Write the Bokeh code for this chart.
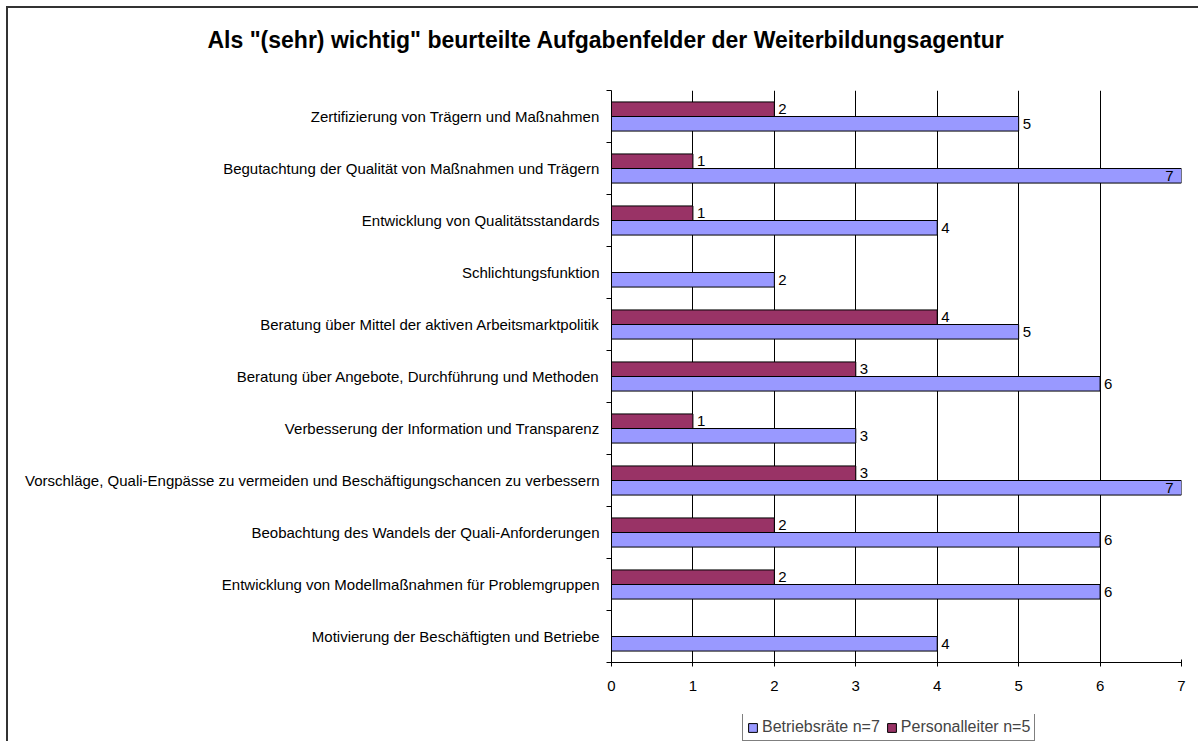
from bokeh.plotting import figure
from bokeh.layouts import column
from bokeh.models import ColumnDataSource, FixedTicker, Legend, LegendItem, Range1d
from bokeh.core.properties import value
from bokeh.embed import file_html
from bokeh.resources import INLINE

TITLE = 'Als "(sehr) wichtig" beurteilte Aufgabenfelder der Weiterbildungsagentur'
categories = [
    "Zertifizierung von Trägern und Maßnahmen",
    "Begutachtung der Qualität von Maßnahmen und Trägern",
    "Entwicklung von Qualitätsstandards",
    "Schlichtungsfunktion",
    "Beratung über Mittel der aktiven Arbeitsmarktpolitik",
    "Beratung über Angebote, Durchführung und Methoden",
    "Verbesserung der Information und Transparenz",
    "Vorschläge, Quali-Engpässe zu vermeiden und Beschäftigungschancen zu verbessern",
    "Beobachtung des Wandels der Quali-Anforderungen",
    "Entwicklung von Modellmaßnahmen für Problemgruppen",
    "Motivierung der Beschäftigten und Betriebe",
]
betriebsraete = [5, 7, 4, 2, 5, 6, 3, 7, 6, 6, 4]
personalleiter = [2, 1, 1, 0, 4, 3, 1, 3, 2, 2, 0]
series_names = ["Betriebsräte n=7", "Personalleiter n=5"]
x_ticks = [0, 1, 2, 3, 4, 5, 6, 7]

BLUE = "#9999FF"
PURPLE = "#993366"
FONT = "Liberation Sans"
X_END = 7
n = len(categories)
BAR_H = 0.28

centers = [n - 0.5 - i for i in range(n)]


def blank(fig):
    fig.outline_line_color = None
    fig.background_fill_color = "white"
    fig.border_fill_alpha = 0


# ---- title strip ----
t = figure(width=1198, height=60, output_backend="svg", toolbar_location=None,
           x_range=Range1d(0, 1), y_range=Range1d(0, 1), x_axis_type=None, y_axis_type=None,
           min_border_top=58, min_border_bottom=0, min_border_left=611, min_border_right=17)
blank(t)
t.grid.visible = False
t.title.text = TITLE
t.title.align = "left"
t.title.offset = -404
t.title.vertical_align = "middle"
t.title.text_font = FONT
t.title.text_font_size = "23px"
t.title.text_font_style = "bold"
t.title.text_color = "black"

# ---- main chart ----
p = figure(width=1198, height=654, output_backend="svg", toolbar_location=None,
           x_range=Range1d(0, X_END), y_range=Range1d(0, n),
           min_border_left=611, min_border_right=17, min_border_top=30, min_border_bottom=52)
blank(p)


def bars(fig, vals, offset, color):
    idx = [i for i, v in enumerate(vals) if v > 0]
    src = ColumnDataSource(dict(
        y=[centers[i] + offset for i in idx],
        right=[vals[i] for i in idx],
    ))
    r = fig.hbar(y="y", left=0, right="right", height=BAR_H, source=src,
                 fill_color=color, line_color="black", line_width=1)
    inside = ColumnDataSource(dict(
        y=[centers[i] + offset for i in idx if vals[i] >= X_END],
        x=[vals[i] for i in idx if vals[i] >= X_END],
        t=[str(vals[i]) for i in idx if vals[i] >= X_END],
    ))
    outside = ColumnDataSource(dict(
        y=[centers[i] + offset for i in idx if vals[i] < X_END],
        x=[vals[i] for i in idx if vals[i] < X_END],
        t=[str(vals[i]) for i in idx if vals[i] < X_END],
    ))
    fig.text(x="x", y="y", text="t", source=outside, x_offset=4, text_align="left",
             text_baseline="middle", text_font=value(FONT), text_font_size="15px",
             text_color="black")
    fig.text(x="x", y="y", text="t", source=inside, x_offset=-8, text_align="right",
             text_baseline="middle", text_font=value(FONT), text_font_size="15px",
             text_color="black")
    return r


bars(p, personalleiter, BAR_H / 2, PURPLE)
bars(p, betriebsraete, -BAR_H / 2, BLUE)

xa = p.xaxis[0]
xa.ticker = FixedTicker(ticks=x_ticks)
xa.axis_line_color = "black"
xa.major_tick_in = 3
xa.major_tick_out = 4
xa.minor_tick_line_color = None
xa.major_label_standoff = 14
xa.major_label_text_font = FONT
xa.major_label_text_font_size = "15px"
xa.major_label_text_color = "black"

ya = p.yaxis[0]
ya.ticker = FixedTicker(ticks=centers, minor_ticks=list(range(n + 1)))
ya.major_label_overrides = {c: categories[i] for i, c in enumerate(centers)}
ya.major_tick_line_color = None
ya.major_tick_in = 0
ya.major_tick_out = 0
ya.minor_tick_in = 0
ya.minor_tick_out = 5
ya.minor_tick_line_color = "black"
ya.axis_line_color = "black"
ya.major_label_standoff = 7
ya.major_label_text_font = FONT
ya.major_label_text_font_size = "15px"
ya.major_label_text_color = "black"

p.xgrid.ticker = FixedTicker(ticks=x_ticks[1:])
p.xgrid.grid_line_color = "black"
p.xgrid.grid_line_width = 1
p.ygrid.grid_line_color = None

# ---- legend strip ----
q = figure(width=1198, height=27, output_backend="svg", toolbar_location=None,
           x_range=Range1d(0, X_END), y_range=Range1d(0, 1), x_axis_type=None, y_axis_type=None,
           min_border_left=611, min_border_right=17, min_border_top=0, min_border_bottom=0)
blank(q)
q.background_fill_alpha = 0
q.grid.visible = False
# legend swatches only (no visible marks in this strip)
nan = float("nan")
lr_br = q.hbar(y=[nan], left=0, right=[nan], height=BAR_H,
               fill_color=BLUE, line_color="black", line_width=1)
lr_pl = q.hbar(y=[nan], left=0, right=[nan], height=BAR_H,
               fill_color=PURPLE, line_color="black", line_width=1)
legend = Legend(items=[LegendItem(label=series_names[0], renderers=[lr_br]),
                       LegendItem(label=series_names[1], renderers=[lr_pl])],
                orientation="horizontal", location=(131, 0),
                label_text_font=FONT, label_text_font_size="16px",
                glyph_width=11, glyph_height=11, label_standoff=4, spacing=6,
                padding=4, margin=0, border_line_color="black", border_line_width=1,
                label_height=18, background_fill_color="white")
q.add_layout(legend, "center")

page = column(t, p, q, spacing=0)
page.styles = {
    "background": "linear-gradient(#333, #333) 6px 6px / 2px 100% no-repeat, "
                  "linear-gradient(#333, #333) 6px 6px / 100% 2px no-repeat, white"
}
open("out.html", "w").write(file_html(page, INLINE))
